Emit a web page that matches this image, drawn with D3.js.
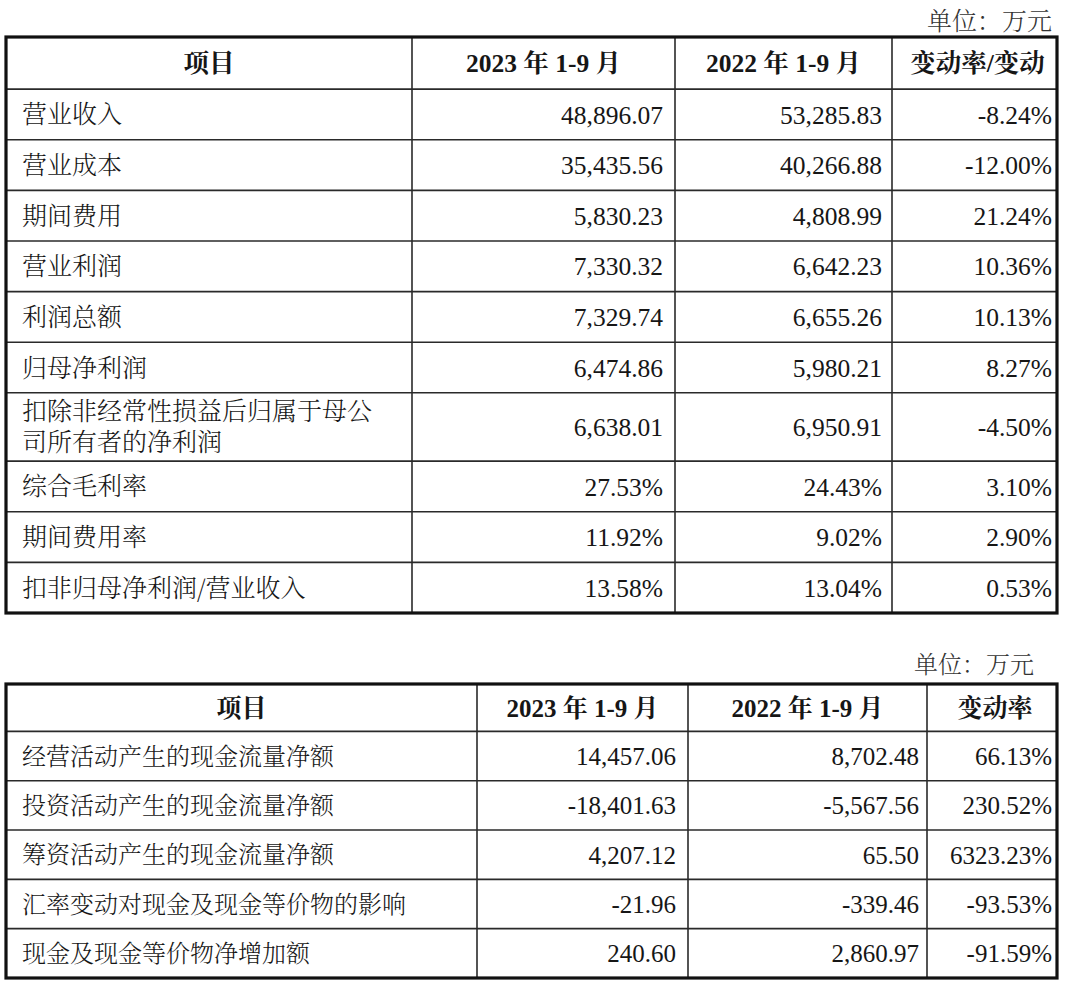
<!DOCTYPE html>
<html><head><meta charset="utf-8">
<script src="https://cdn.jsdelivr.net/npm/d3@7"></script>
<style>
body{margin:0;background:#fff;}
svg{display:block;}
</style></head>
<body>
<svg id="chart" width="1073" height="982"></svg>
<script>
// ---------- DATA ----------
const unitLabel = "单位：万元";
const headers1 = ["项目", "2023 年 1-9 月", "2022 年 1-9 月", "变动率/变动"];
const items1 = ["营业收入", "营业成本", "期间费用", "营业利润", "利润总额", "归母净利润",
  "扣除非经常性损益后归属于母公\n司所有者的净利润", "综合毛利率", "期间费用率", "扣非归母净利润/营业收入"];
const values2023a = ["48,896.07", "35,435.56", "5,830.23", "7,330.32", "7,329.74", "6,474.86", "6,638.01", "27.53%", "11.92%", "13.58%"];
const values2022a = ["53,285.83", "40,266.88", "4,808.99", "6,642.23", "6,655.26", "5,980.21", "6,950.91", "24.43%", "9.02%", "13.04%"];
const changeA = ["-8.24%", "-12.00%", "21.24%", "10.36%", "10.13%", "8.27%", "-4.50%", "3.10%", "2.90%", "0.53%"];

const headers2 = ["项目", "2023 年 1-9 月", "2022 年 1-9 月", "变动率"];
const items2 = ["经营活动产生的现金流量净额", "投资活动产生的现金流量净额", "筹资活动产生的现金流量净额",
  "汇率变动对现金及现金等价物的影响", "现金及现金等价物净增加额"];
const values2023b = ["14,457.06", "-18,401.63", "4,207.12", "-21.96", "240.60"];
const values2022b = ["8,702.48", "-5,567.56", "65.50", "-339.46", "2,860.97"];
const changeB = ["66.13%", "230.52%", "6323.23%", "-93.53%", "-91.59%"];

// ---------- DRAW ----------
const svg = d3.select("#chart");
const numFont = "'Liberation Serif','Times New Roman','Noto Serif CJK SC','Noto Sans CJK SC',serif";
const cjkFont = "'Noto Serif CJK SC','Noto Sans CJK SC',serif";
const ink = "#161616";

function drawTable(cfg) {
  const {top, bottom, left, right, colFr, headerUnits, rowUnits, headers, items, cols, pads, cjkSize, numSize, unitX, unitY} = cfg;
  const g = svg.append("g");
  const x = d3.scaleLinear().domain([0, 1]).range([left, right]);
  const cum = [0, headerUnits];
  rowUnits.forEach(u => cum.push(cum[cum.length - 1] + u));
  const y = d3.scaleLinear().domain([0, cum[cum.length - 1]]).range([top, bottom]);

  g.append("text").attr("x", unitX).attr("y", unitY).attr("text-anchor", "end")
    .attr("font-family", cjkFont).attr("font-size", cjkSize).attr("font-weight", 300)
    .attr("fill", "#333").text(unitLabel);

  g.selectAll("line.h").data(cum.slice(1, -1)).join("line")
    .attr("x1", x(0)).attr("x2", x(1)).attr("y1", d => y(d)).attr("y2", d => y(d))
    .attr("stroke", "#2a2a2a").attr("stroke-width", 1.6);
  g.selectAll("line.v").data(colFr.slice(1, -1)).join("line")
    .attr("x1", d => x(d)).attr("x2", d => x(d)).attr("y1", y(0)).attr("y2", y(cum[cum.length - 1]))
    .attr("stroke", "#2a2a2a").attr("stroke-width", 1.6);
  g.append("rect").attr("x", x(0)).attr("y", y(0)).attr("width", x(1) - x(0)).attr("height", y(cum[cum.length - 1]) - y(0))
    .attr("fill", "none").attr("stroke", "#111").attr("stroke-width", 3.2);

  g.selectAll("text.hd").data(headers).join("text")
    .attr("x", (d, i) => (x(colFr[i]) + x(colFr[i + 1])) / 2 + (i === 3 ? 3 : 0))
    .attr("y", (y(0) + y(cum[1])) / 2).attr("dy", "0.36em")
    .attr("text-anchor", "middle")
    .attr("font-family", numFont).attr("font-size", numSize).attr("font-weight", 700)
    .attr("fill", ink).text(d => d);

  items.forEach((it, r) => {
    const lines = it.split("\n");
    const cy = (y(cum[r + 1]) + y(cum[r + 2])) / 2;
    const lh = cjkSize * 1.24;
    lines.forEach((ln, k) => {
      g.append("text").attr("font-family", cjkFont).attr("font-size", cjkSize)
        .attr("font-weight", 300).attr("fill", ink)
        .attr("x", x(0) + 16)
        .attr("y", cy + (k - (lines.length - 1) / 2) * lh).attr("dy", "0.36em").text(ln);
    });
  });

  cols.forEach((col, c) => {
    g.selectAll("text.c" + c).data(col).join("text")
      .attr("x", x(colFr[c + 2]) - pads[c])
      .attr("y", (d, r) => (y(cum[r + 1]) + y(cum[r + 2])) / 2).attr("dy", "0.36em")
      .attr("text-anchor", "end")
      .attr("font-family", numFont).attr("font-size", numSize)
      .attr("fill", ink).text(d => d);
  });
}

drawTable({
  top: 37, bottom: 613, left: 6, right: 1057,
  colFr: [0, 406 / 1051, 669 / 1051, 886 / 1051, 1],
  headerUnits: 1.03, rowUnits: [1, 1, 1, 1, 1, 1, 1.35, 1, 1, 1],
  headers: headers1, items: items1, cols: [values2023a, values2022a, changeA], pads: [12, 10, 5],
  cjkSize: 25, numSize: 25.5, unitX: 1052, unitY: 29.5
});

drawTable({
  top: 684, bottom: 978, left: 6, right: 1057,
  colFr: [0, 471 / 1051, 682 / 1051, 921 / 1051, 1],
  headerUnits: 0.96, rowUnits: [1, 1, 1, 1, 1],
  headers: headers2, items: items2, cols: [values2023b, values2022b, changeB], pads: [12, 8, 5],
  cjkSize: 24, numSize: 25, unitX: 1034, unitY: 673
});
</script>
</body></html>
